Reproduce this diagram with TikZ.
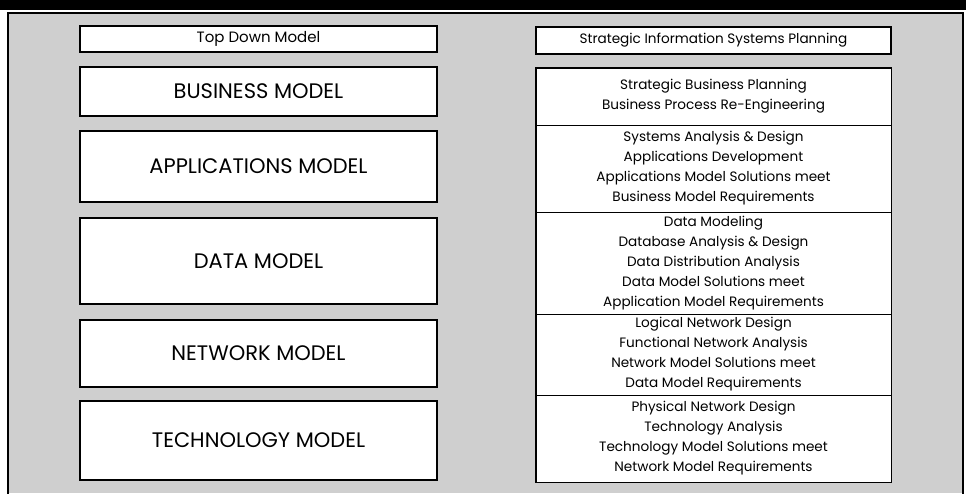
\documentclass[tikz,border=0pt]{standalone}
\usepackage{fontspec}
\setmainfont{Poppins}
\usetikzlibrary{
  positioning,
  backgrounds,
}
\definecolor{panelgray}{gray}{0.81}
\tikzset{
  modelbox/.style={draw, line width=1.6pt, fill=white, minimum width=357pt,
    inner sep=0pt, font=\fontsize{21}{24}\selectfont},
  titlebox/.style={draw, line width=1.2pt, fill=white, inner sep=0pt},
  planbox/.style={draw, line width=0.6pt, fill=white, minimum width=355pt,
    inner sep=0pt, align=center, font=\fontsize{13.6}{20}\selectfont},
}

\begin{document}
\begin{tikzpicture}[x=1pt, y=-1pt]
      \useasboundingbox (0,0) rectangle (966,493);
      % frame and heading bar
      \fill[panelgray] (8,13) rectangle (963,493);
      \draw[line width=2pt] (8,495) -- (8,13) -- (963,13) -- (963,495);
      \fill[black] (0,0) rectangle (966,10);
      % left column
      \node[titlebox, minimum width=357pt, minimum height=26pt, font=\fontsize{15}{18}\selectfont] (topdown) at (258.5,39) {Top Down Model};
      \foreach \name/\yc/\hgt/\lbl in {bus/91.5/49/BUSINESS MODEL,
          app/166.5/71/APPLICATIONS MODEL,
          dat/261/86/DATA MODEL,
          net/353.5/67/NETWORK MODEL,
          tec/440.5/79/TECHNOLOGY MODEL}
      {
        \node[modelbox, minimum height=\hgt pt] (\name) at (258.5,\yc) {\lbl};
      }
      % right column
      \node[titlebox, minimum width=355pt, minimum height=27pt, font=\fontsize{13.6}{16}\selectfont] (sisp) at (713.5,40.5) {Strategic Information Systems Planning};
      \foreach \name/\yc/\hgt/\lbl in {busplan/96.5/57/{Strategic Business Planning\\Business Process Re-Engineering},
          appplan/168.5/87/{Systems Analysis \& Design\\Applications Development\\Applications Model Solutions meet\\Business Model Requirements},
          datplan/263/102/{Data Modeling\\Database Analysis \& Design\\Data Distribution Analysis\\Data Model Solutions meet\\Application Model Requirements},
          netplan/354.5/81/{Logical Network Design\\Functional Network Analysis\\Network Model Solutions meet\\Data Model Requirements},
          tecplan/438.5/87/{Physical Network Design\\Technology Analysis\\Technology Model Solutions meet\\Network Model Requirements}}
      {
        \node[planbox, minimum height=\hgt pt] (\name) at (713.5,\yc) {\lbl};
      }
      \draw[line width=1.6pt] (busplan.north west) rectangle (tecplan.south east);
    \end{tikzpicture}
\end{document}
